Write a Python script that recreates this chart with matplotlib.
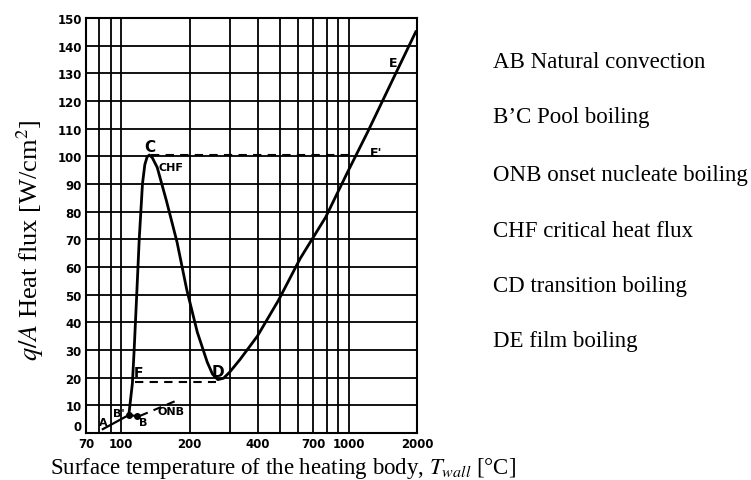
import numpy as np
import matplotlib.pyplot as plt

plt.rcParams['mathtext.fontset'] = 'stix'

# boiling curve (T in degC, q/A in W/cm2)
curve_T = [108, 112, 114, 117, 120, 124, 127, 130, 133, 137, 144, 158, 176,
           194, 216, 239, 252, 266, 282, 300, 334, 397, 492, 612, 793, 986,
           1210, 1570, 1975]
curve_q = [6.5, 18, 30, 50, 70, 90, 97, 99.8, 100.5, 99.5, 96, 84, 69,
           52, 36.5, 25.6, 21.3, 19.3, 19.8, 22.0, 26.7, 35, 48, 63, 78, 94,
           108.6, 128, 145]

# natural convection A -> B
ab_T = [83, 108, 117]
ab_q = [1.4, 6.5, 6.1]

# ONB dashed
onb_T = [121, 182]
onb_q = [6.2, 12.3]

# CHF dashed level, F-D dashed level
chf_T = [135, 1080]
chf_q = [100.6, 100.6]
fd_T = [115, 262]
fd_q = [18.6, 18.6]

# dots at B' and B
dot_T = [108, 117]
dot_q = [6.6, 6.1]

x_ticks = [70, 100, 200, 400, 700, 1000, 2000]
x_grid = [80, 90, 100, 200, 300, 400, 500, 600, 700, 800, 900, 1000]
y_ticks = list(range(0, 151, 10))

point_labels = ['C', 'CHF', 'D', 'E', "E'", 'F', 'A', "B'", 'B', 'ONB']
label_T = [134, 166, 266, 1573, 1322, 119, 83, 98, 125, 166]
label_q = [103.5, 96, 22.4, 134, 101.5, 22, 3.8, 7.4, 4.0, 8.0]
label_size = [11, 8, 11, 9, 9, 10, 8, 8, 8, 8]

legend_lines = ['AB Natural convection', 'B\u2019C Pool boiling',
                'ONB onset nucleate boiling', 'CHF critical heat flux',
                'CD transition boiling', 'DE film boiling']

fig = plt.figure(figsize=(7.51, 4.81), dpi=100)
ax = fig.add_axes([86 / 751, 1 - 434 / 481, 331 / 751, 415 / 481])

ax.set_xscale('log')
ax.set_xlim(70, 2000)
ax.set_ylim(0, 150)

ax.set_xticks(x_ticks)
ax.set_xticklabels([str(v) for v in x_ticks])
ax.set_xticks(x_grid, minor=True)
ax.xaxis.set_minor_formatter(plt.NullFormatter())
ax.set_yticks(y_ticks)
ax.set_yticklabels([str(v) for v in y_ticks])
ax.tick_params(which='both', length=0, labelsize=8.5, pad=3)
for lab in ax.get_xticklabels() + ax.get_yticklabels():
    lab.set_fontweight('bold')
# the "0" sits a bit above the corner in the original
ax.get_yticklabels()[0].set_va('bottom')

ax.grid(which='both', color='black', linewidth=1.3)
for s in ax.spines.values():
    s.set_linewidth(1.5)

ax.plot(curve_T, curve_q, color='black', linewidth=2)
ax.plot(ab_T, ab_q, color='black', linewidth=1.6)
ax.plot(onb_T, onb_q, color='black', linewidth=1.5, dashes=(4, 3))
ax.plot(chf_T, chf_q, color='black', linewidth=1.5, dashes=(4, 3))
ax.plot(fd_T, fd_q, color='black', linewidth=1.5, dashes=(4, 3))
ax.plot(dot_T, dot_q, 'o', color='black', markersize=4)

for t, x, y, s in zip(point_labels, label_T, label_q, label_size):
    ax.text(x, y, t, fontsize=s, fontweight='bold', ha='center', va='center')

fig.text(30 / 751, 1 - 240 / 481, r'$q/A$ Heat flux [W/cm$^2$]',
         family='Liberation Serif', fontsize=19, rotation=90,
         ha='center', va='center')
fig.text(50 / 751, 1 - 469 / 481,
         r'Surface temperature of the heating body, $T_{wall}$ [°C]',
         family='Liberation Serif', fontsize=16.5, ha='left', va='center')

legend_y = [63, 118, 175, 232, 287, 342]
for t, y in zip(legend_lines, legend_y):
    fig.text(493 / 751, 1 - y / 481, t, family='Liberation Serif',
             fontsize=16.5, ha='left', va='center')

fig.savefig('out.png', dpi=100)
